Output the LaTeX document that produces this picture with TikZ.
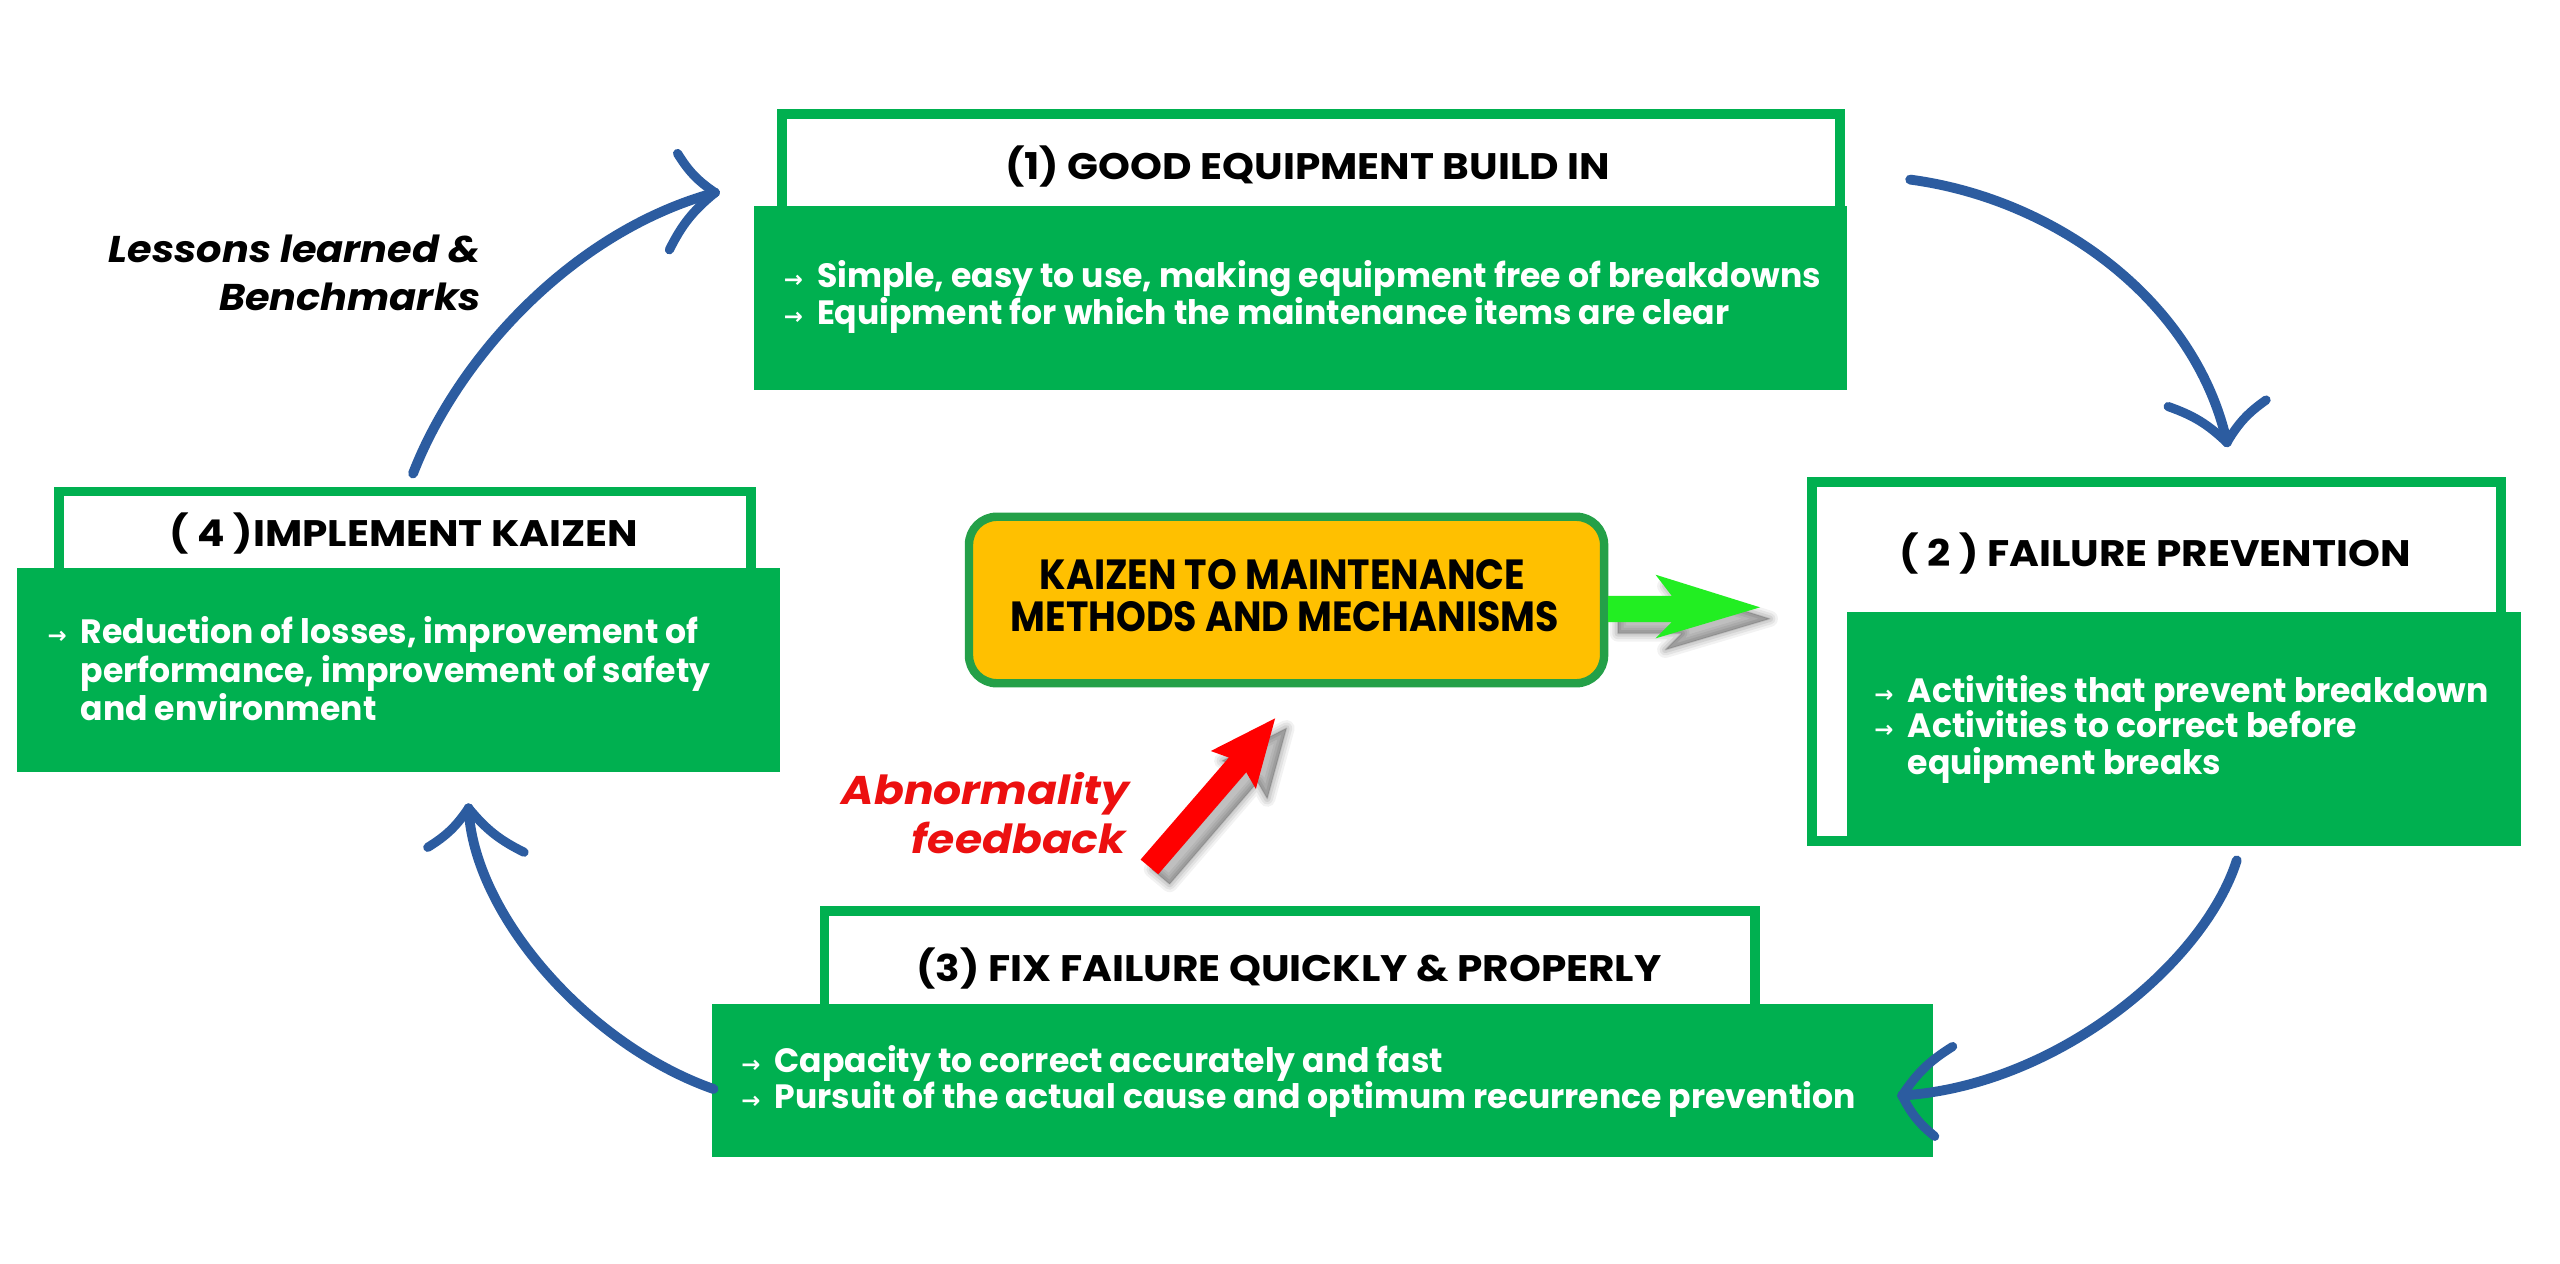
\documentclass[tikz,border=0pt]{standalone}
\usepackage{fontspec}
\setmainfont{Poppins}
\newfontfamily\ttlfam{Poppins}[FakeStretch=1.1]
\newfontfamily\bodyfam{Poppins}[FakeStretch=0.98]
\newfontfamily\cfam{Poppins}[FakeStretch=0.9]
\newfontfamily\lfam{Poppins}[FakeStretch=1.07]
\newfontfamily\rfam{Poppins}[FakeStretch=1.1]
\newfontfamily\arrowfont{DejaVu Sans}
\definecolor{boxgreen}{RGB}{0,176,80}
\definecolor{cgreen}{RGB}{36,160,72}
\definecolor{gold}{RGB}{255,192,0}
\definecolor{lime}{RGB}{34,238,34}
\definecolor{arrowblue}{RGB}{44,92,160}
\definecolor{fbred}{RGB}{236,16,16}
\newcommand\barr{\makebox[0pt][r]{\arrowfont\fontsize{6.5}{7}\selectfont →\hspace{4pt}}}
\tikzset{
  hdr/.style={draw=boxgreen, line width=2.8pt, fill=white},
  bodybox/.style={fill=boxgreen},
  ttl/.style={anchor=base, font=\ttlfam\bfseries\fontsize{10.5}{12}\selectfont, text=black, inner sep=0pt},
  bline/.style={anchor=base west, font=\bodyfam\bfseries\fontsize{9.6}{11}\selectfont, text=white, inner sep=0pt},
  ctext/.style={anchor=base, font=\cfam\bfseries\fontsize{12}{14}\selectfont, text=black, inner sep=0pt},
  ltext/.style={anchor=base east, font=\lfam\bfseries\itshape\fontsize{10.6}{12}\selectfont, text=black, inner sep=0pt},
  rtext/.style={anchor=base east, font=\rfam\bfseries\itshape\fontsize{11.4}{13}\selectfont, text=fbred, inner sep=0pt},
  bluearrow/.style={draw=arrowblue, line width=2.8pt, line cap=round, line join=round},
  barb/.style={draw=arrowblue, line width=2.6pt, line cap=round},
}
\begin{document}
\begin{tikzpicture}[x=0.0163265cm, y=-0.0163265cm]
\useasboundingbox[fill=white] (0,0) rectangle (1568,774);

% ---------- Box 1 ----------
\path[hdr] (479,70) rectangle (1127,200);
\path[bodybox] (462,126) rectangle (1131,239);
\node[ttl] (t1) at (801,110) {(1) GOOD EQUIPMENT BUILD IN};
\node[bline] (b1a) at (500,176) {\barr Simple, easy to use, making equipment free of breakdowns};
\node[bline] (b1b) at (500,198.5) {\barr Equipment for which the maintenance items are clear};

% ---------- Box 2 ----------
\path[hdr] (1110,295) rectangle (1532,515);
\path[bodybox] (1131,375) rectangle (1544,518);
\node[ttl] (t2) at (1320,347) {( 2 ) FAILURE PREVENTION};
\node[bline] (b2a) at (1168,430) {\barr Activities that prevent breakdown};
\node[bline] (b2b) at (1168,452) {\barr Activities to correct before};
\node[bline] (b2c) at (1168,474.6) {equipment breaks};

% ---------- Box 4 ----------
\path[hdr] (36,301) rectangle (460,400);
\path[bodybox] (10.6,348) rectangle (478,473);
\node[ttl] (t4) at (247.5,335) {( 4 )IMPLEMENT KAIZEN};
\node[bline] (b4a) at (49,394) {\barr Reduction of losses, improvement of};
\node[bline] (b4b) at (49,418) {performance, improvement of safety};
\node[bline] (b4c) at (49,441.6) {and environment};

% ---------- Box 3 ----------
\path[hdr] (505,558) rectangle (1075,650);
\path[bodybox] (436,615) rectangle (1184,708.5);
\node[ttl] (t3) at (789.5,601) {(3) FIX FAILURE QUICKLY \& PROPERLY};
\node[bline] (b3a) at (474,656.7) {\barr Capacity to correct accurately and fast};
\node[bline] (b3b) at (474,678.8) {\barr Pursuit of the actual cause and optimum recurrence prevention};

% ---------- Center box ----------
\draw[cgreen, line width=2.4pt, fill=gold, rounded corners=0.28cm] (593.5,316.5) rectangle (982.5,418.5);
\node[ctext] (c1) at (785.5,361) {KAIZEN TO MAINTENANCE};
\node[ctext] (c2) at (787,387) {METHODS AND MECHANISMS};

% ---------- Side labels ----------
\node[ltext] (l1) at (295,161) {Lessons learned \&};
\node[ltext] (l2) at (295,190) {Benchmarks};
\node[rtext] (r1) at (692,493) {Abnormality};
\node[rtext] (r2) at (690,522.5) {feedback};

% ---------- Green arrow with shadow ----------
\foreach \w/\o in {10/0.05,7/0.06,4/0.07,1/0.09}{
  \fill[black, opacity=\o, draw=black, line width=\w*0.4628pt, line join=round, shift={(6,7)}]
   (985,365) -- (1024,365) -- (1014,352) -- (1078,372) -- (1014,391) -- (1024,381) -- (985,381) -- cycle;
}
\fill[lime] (985,365) -- (1024,365) -- (1014,352) -- (1078,372) -- (1014,391) -- (1024,381) -- (985,381) -- cycle;

% ---------- Red arrow with shadow ----------
\foreach \w/\o in {10/0.05,7/0.06,4/0.07,1/0.09}{
  \fill[black, opacity=\o, draw=black, line width=\w*0.4628pt, line join=round, shift={(7,6)}]
   (698.6,526.5) -- (752.7,464) -- (741.6,460) -- (781,440) -- (769.2,483.2) -- (763.3,473) -- (709.4,535.5) -- cycle;
}
\fill[red] (698.6,526.5) -- (752.7,464) -- (741.6,460) -- (781,440) -- (769.2,483.2) -- (763.3,473) -- (709.4,535.5) -- cycle;

% ---------- Blue cycle arrows ----------
\coordinate (a1s) at (253,290); \coordinate (a1t) at (438,118);
\coordinate (a1l) at (415,94);  \coordinate (a1r) at (410,153);
\draw[bluearrow] (a1s) .. controls (280,220) and (350,142) .. (a1t);
\draw[barb] (a1t) to[bend left=12] (a1l);
\draw[barb] (a1t) to[bend right=12] (a1r);

\coordinate (a2s) at (1170,110); \coordinate (a2t) at (1364,271);
\coordinate (a2l) at (1328,249); \coordinate (a2r) at (1388,245);
\draw[bluearrow] (a2s) .. controls (1260,122) and (1345,185) .. (a2t);
\draw[barb] (a2t) to[bend right=12] (a2l);
\draw[barb] (a2t) to[bend left=12] (a2r);

\coordinate (a3s) at (1370,527); \coordinate (a3t) at (1165,671);
\coordinate (a3u) at (1196,641); \coordinate (a3d) at (1185,696);
\draw[bluearrow] (a3s) .. controls (1350,590) and (1260,665) .. (a3t);
\draw[barb] (a3t) to[bend left=12] (a3u);
\draw[barb] (a3t) to[bend right=12] (a3d);

\coordinate (a4s) at (437,667); \coordinate (a4t) at (287,495);
\coordinate (a4l) at (262,519); \coordinate (a4r) at (321,522);
\draw[bluearrow] (a4s) .. controls (360,640) and (290,560) .. (a4t);
\draw[barb] (a4t) to[bend left=12] (a4l);
\draw[barb] (a4t) to[bend right=12] (a4r);
\end{tikzpicture}
\end{document}
